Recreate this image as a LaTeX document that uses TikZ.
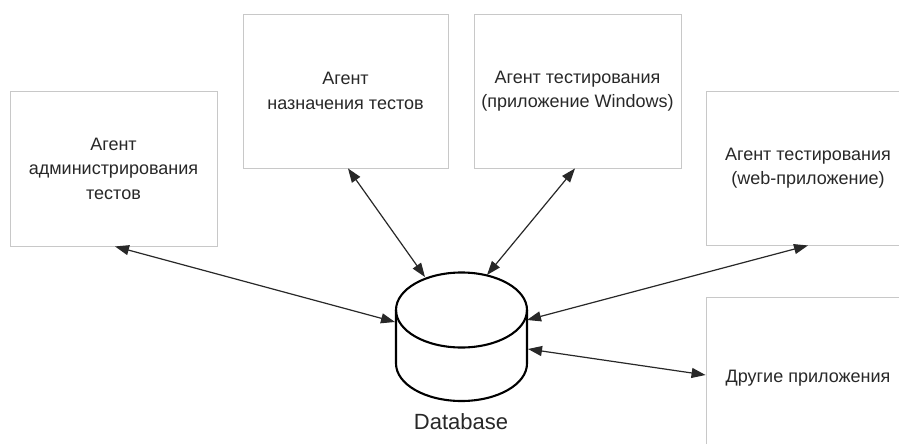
\documentclass[tikz,border=0pt]{standalone}
\usepackage{fontspec}
\setmainfont{Liberation Sans}
\usetikzlibrary{arrows.meta}
\definecolor{boxgray}{RGB}{200,200,200}
\definecolor{ink}{RGB}{40,40,40}
\begin{document}
\begin{tikzpicture}[x=1pt,y=-1pt,
  box/.style={draw=boxgray, line width=0.9pt, fill=white, align=center, text=ink,
    font=\fontsize{18}{24.5}\selectfont, inner sep=0pt},
  conn/.style={{Triangle[length=14pt,width=10pt]}-{Triangle[length=14pt,width=10pt]},
    line width=1.2pt, draw=ink},
  cyl/.style={draw=black, line width=2.1pt}]
\useasboundingbox (0,0) rectangle (899,444);
\clip (0,0) rectangle (899,444);
\fill[white] (0,0) rectangle (899,444);

% boxes
\node[box, minimum width=207pt, minimum height=155pt] (adm) at (113.5,168.5)
  {Агент\\администрирования\\тестов};
\node[box, minimum width=205pt, minimum height=154pt] (asg) at (345.5,91)
  {Агент\\назначения тестов};
\node[box, minimum width=207pt, minimum height=154pt] (win) at (577.5,91)
  {Агент тестирования\\(приложение Windows)};
\node[box, minimum width=204pt, minimum height=154pt] (web) at (808,168)
  {Агент тестирования\\(web-приложение)};
\node[box, minimum width=204pt, minimum height=162pt] (oth) at (808,378)
  {Другие приложения};

% database cylinder
\draw[cyl] (461.5,310) ellipse [x radius=65.5pt, y radius=37.5pt];
\draw[cyl] (396,310) -- (396,363.5)
  arc[start angle=180, end angle=360, x radius=65.5pt, y radius=37.5pt] -- (527,310);
\node[inner sep=0pt, minimum width=131pt, minimum height=129pt] (db) at (461.5,337) {};
\node[text=ink, font=\fontsize{22}{24}\selectfont] (dblabel) at (461,422) {Database};

\coordinate (dbA) at (395,322);
\coordinate (dbB) at (425,277);
\coordinate (dbC) at (487,275);
\coordinate (dbD) at (527,320);
\coordinate (dbE) at (528,349);

% connectors
\draw[conn] ([xshift=1.5pt]adm.south) -- (dbA);
\draw[conn] ([xshift=2.5pt]asg.south) -- (dbB);
\draw[conn] ([xshift=-2.5pt]win.south) -- (dbC);
\draw[conn] (web.south) -- (dbD);
\draw[conn] ([yshift=3pt]oth.west) -- (dbE);
\end{tikzpicture}
\end{document}
